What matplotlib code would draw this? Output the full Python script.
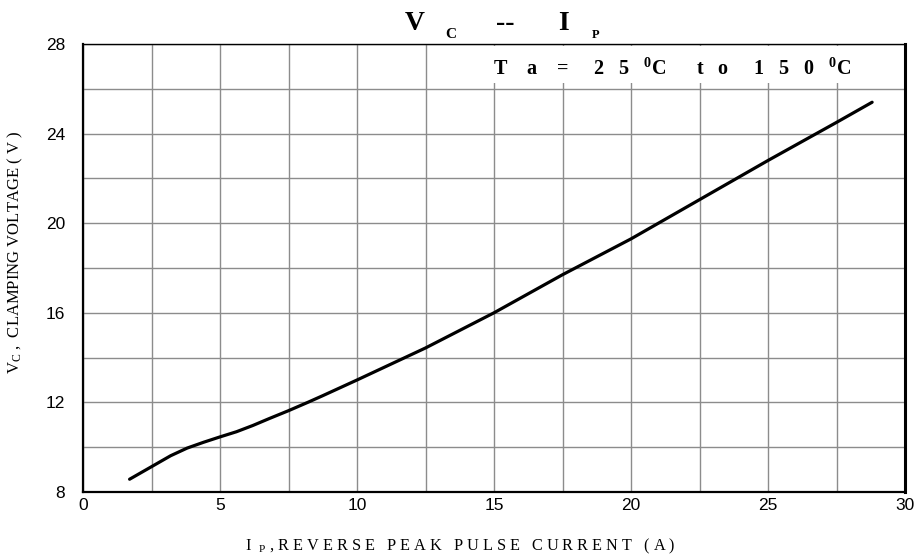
import matplotlib
import matplotlib.pyplot as plt
from matplotlib.patches import Rectangle

matplotlib.use("Agg")

# curve
ip_amps = [1.7, 2.5, 3.2, 3.8, 4.4, 5.0, 5.6, 6.2, 6.8, 7.5, 8.2, 8.75, 10.0,
           12.5, 15.0, 17.5, 20.0, 22.5, 25.0, 27.5, 28.8]
vc_volts = [8.57, 9.13, 9.62, 9.96, 10.22, 10.46, 10.69, 10.97, 11.28, 11.63, 12.0, 12.3, 13.0,
            14.43, 16.0, 17.7, 19.3, 21.05, 22.8, 24.5, 25.4]

x_ticks = [0, 5, 10, 15, 20, 25, 30]
y_ticks = [8, 12, 16, 20, 24, 28]
x_grid = [2.5, 7.5, 12.5, 17.5, 22.5, 27.5]
y_grid = [10, 14, 18, 22, 26]

SERIF = "Liberation Serif"
SANS = "Liberation Sans"

plt.rcParams["mathtext.fontset"] = "custom"
plt.rcParams["mathtext.rm"] = SERIF
plt.rcParams["mathtext.it"] = SERIF + ":italic"
plt.rcParams["mathtext.bf"] = SERIF + ":bold"

W, H = 919, 557
fig = plt.figure(figsize=(W / 100, H / 100), dpi=100)
ax = fig.add_axes([83 / W, 1 - 492 / H, 822 / W, 448 / H])


def px(x, y):
    # pixel position -> figure fraction
    return x / W, 1 - y / H


ax.plot(ip_amps, vc_volts, color="black", lw=2.3, solid_capstyle="round", zorder=3)

ax.set_xlim(0, 30)
ax.set_ylim(8, 28)
ax.set_xticks(x_ticks)
ax.set_yticks(y_ticks)
ax.set_xticks(x_grid, minor=True)
ax.set_yticks(y_grid, minor=True)
ax.set_axisbelow(True)
ax.grid(which="both", color="#8c8c8c", lw=1.0)
ax.tick_params(which="both", length=0)
ax.tick_params(axis="x", pad=4)
ax.tick_params(axis="y", pad=13)
for lbl in ax.get_xticklabels() + ax.get_yticklabels():
    lbl.set_fontfamily(SANS)
    lbl.set_fontsize(12.5)

for side, w in (("left", 1.6), ("bottom", 1.6), ("top", 1.0), ("right", 2.2)):
    ax.spines[side].set_linewidth(w)
    ax.spines[side].set_color("black")
    ax.spines[side].set_zorder(4)

# white panel behind the temperature note
ax.add_patch(Rectangle((0.487, 0.9125), 0.51, 0.083, transform=ax.transAxes,
                       facecolor="white", edgecolor="none", zorder=1))
ax.text(0.4985, 0.944,
        r"T    a    =     2   5   $^{\mathbf{0}}$C      t   o     1   5   0   $^{\mathbf{0}}$C",
        transform=ax.transAxes, fontsize=14.5, fontweight="bold", family=SERIF,
        ha="left", va="center", zorder=2)

# title V_C -- I_P
fig.text(*px(405, 30), "V", fontsize=20, fontweight="bold", family=SERIF, va="baseline")
fig.text(*px(445, 38), "C", fontsize=11, fontweight="bold", family=SERIF, va="baseline")
fig.text(*px(496, 30), "--", fontsize=20, fontweight="bold", family=SERIF, va="baseline")
fig.text(*px(558, 30), "I", fontsize=20, fontweight="bold", family=SERIF, va="baseline")
fig.text(*px(592, 38), "P", fontsize=9, fontweight="bold", family=SERIF, va="baseline")

ax.set_xlabel(r"I  $_{\rm P}$ , R E V E R S E   P E A K   P U L S E   C U R R E N T   ( A )",
              fontsize=11.7, family=SERIF)
ax.xaxis.set_label_coords(0.459, -0.1)
ax.set_ylabel(r"V$_{\rm C}$ ,  CLAMPING VOLTAGE ( V )", fontsize=12, family=SERIF)
ax.yaxis.set_label_coords(-0.0706, 0.536)

fig.savefig("out.png", dpi=100)
